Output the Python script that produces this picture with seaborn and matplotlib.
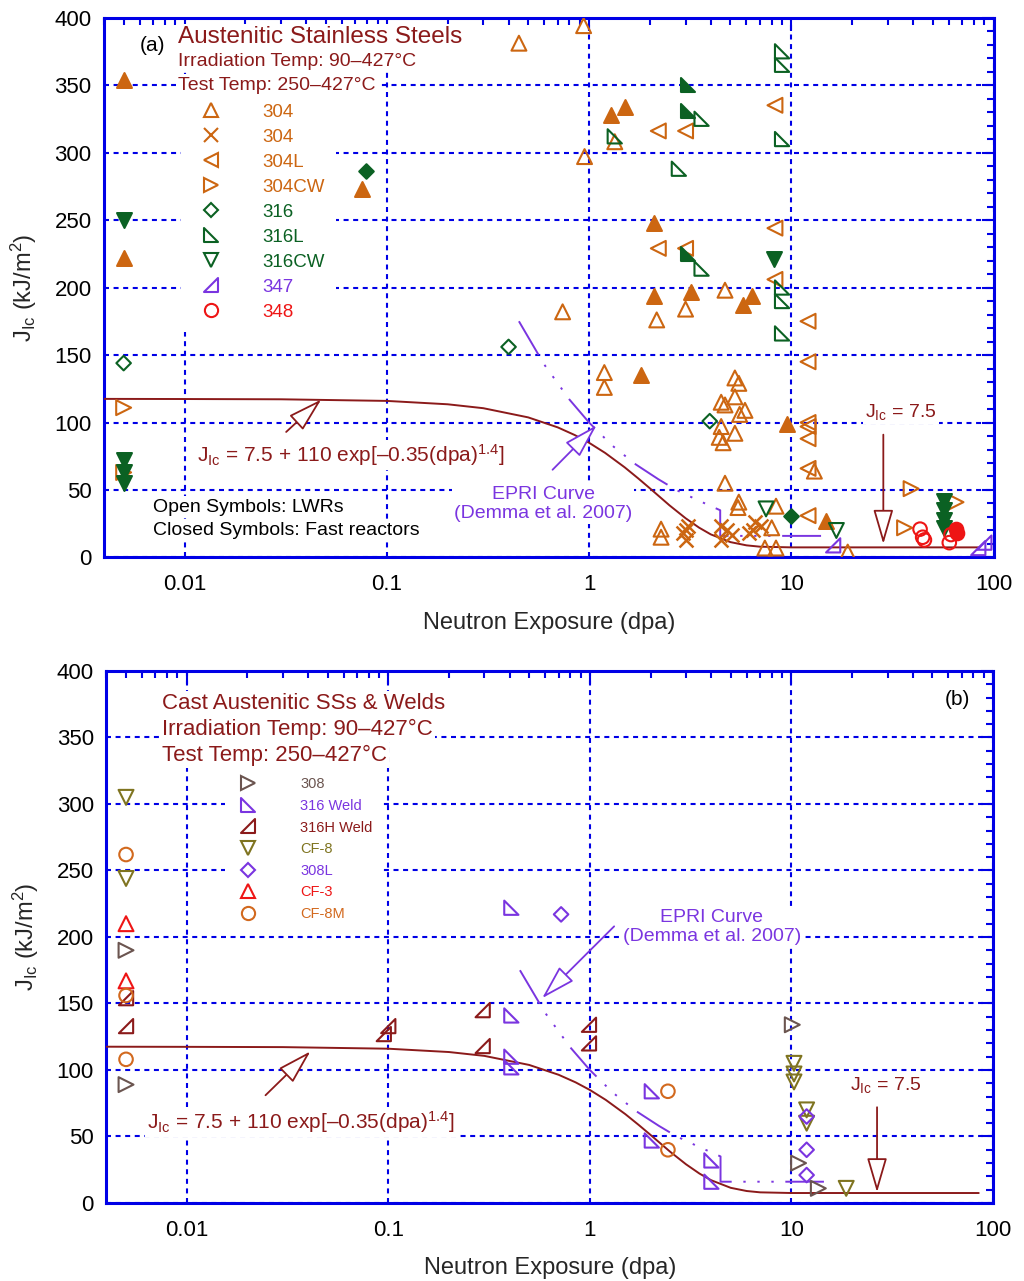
import numpy as np
import matplotlib
matplotlib.use('Agg')
import matplotlib.pyplot as plt
import seaborn as sns
from matplotlib.path import Path
from matplotlib.lines import Line2D
from matplotlib.ticker import MultipleLocator, LogLocator, NullFormatter

# ---------------- panel (a): austenitic stainless steels (dpa, J_Ic kJ/m2) ----------------
x_304_open = [0.45, 0.94, 0.95, 1.34, 0.74, 2.16, 3.0, 4.7, 1.19, 1.19, 5.26, 5.5, 5.26, 4.5,
              4.7, 5.9, 5.55, 4.5, 5.26, 4.4, 4.6, 4.7, 5.5, 5.45, 8.4, 8.0, 2.27, 2.27, 7.4,
              8.4, 19.0, 13.0]
j_304_open = [381, 394, 297, 308, 182, 176, 184, 198, 137, 126, 133, 129, 119, 115,
              113, 109, 106, 97, 92, 89, 85, 55, 41, 37, 38, 22, 21, 15, 7,
              7, 4, 64]
x_304_closed = [0.005, 0.005, 0.075, 1.29, 1.5, 2.09, 2.1, 3.18, 6.4, 5.8, 1.8, 9.5, 14.9]
j_304_closed = [354, 222, 273, 328, 334, 248, 194, 197, 194, 187, 135, 99, 27]
x_304_x = [3.0, 3.0, 3.1, 2.9, 4.5, 4.8, 5.1, 4.5, 6.6, 6.5, 7.1, 6.2]
j_304_x = [20, 13, 23, 18, 23, 20, 17, 13, 26, 20, 23, 18]
x_304L = [2.2, 3.0, 8.3, 8.3, 2.2, 3.0, 8.3, 12.1, 12.1, 12.1, 12.1, 12.1, 12.1, 12.1]
j_304L = [316, 316, 335, 244, 229, 229, 206, 175, 145, 100, 97, 88, 66, 31]
x_304CW = [0.005, 0.005, 39.1, 36.3, 65.2]
j_304CW = [111, 63, 51, 22, 41]
x_316_open = [0.005, 0.40, 3.95]
j_316_open = [144, 156, 101]
x_316_closed = [0.079, 10.0]
j_316_closed = [286, 31]
x_316L_open = [9.0, 9.0, 9.0, 2.78, 3.6, 1.34, 3.6, 9.0, 9.0, 9.0]
j_316L_open = [375, 365, 310, 288, 325, 312, 214, 200, 190, 166]
x_316L_closed = [3.09, 3.09, 3.09]
j_316L_closed = [350, 331, 225]
x_316CW_open = [7.5, 16.7]
j_316CW_open = [36, 20]
x_316CW_closed = [0.005, 0.005, 0.005, 0.005, 8.2, 56.6, 56.6, 56.6, 56.6]
j_316CW_closed = [250, 72, 63, 55, 221, 42, 35, 28, 22]
x_347 = [16.1, 84.0, 90.0]
j_347 = [9, 7, 11]
x_348_open = [43.3, 44.6, 45.5, 60.4, 61.6]
j_348_open = [21, 15, 13, 11, 17]
x_348_closed = [65.2, 66.0]
j_348_closed = [21, 18]

# ---------------- panel (b): cast SSs & welds ----------------
x_308 = [0.005, 0.005, 10.1, 10.85, 13.6]
j_308 = [190, 89, 134, 30, 11]
x_316W = [0.408, 0.408, 0.408, 0.408, 2.03, 2.03, 4.01, 4.01]
j_316W = [222, 141, 110, 102, 84, 47, 32, 16]
x_316HW = [0.005, 0.005, 0.095, 0.10, 0.294, 0.294, 0.99, 0.99]
j_316HW = [154, 133, 127, 133, 145, 118, 134, 120]
x_CF8 = [0.005, 0.005, 10.3, 10.3, 10.3, 11.9, 11.9, 18.7]
j_CF8 = [305, 244, 105, 97, 91, 70, 60, 11]
x_308L = [0.72, 11.9, 11.9, 11.9]
j_308L = [217, 65, 40, 21]
x_CF3 = [0.005, 0.005]
j_CF3 = [210, 167]
x_CF8M = [0.005, 0.005, 0.005, 2.44, 2.44]
j_CF8M = [262, 156, 108, 84, 40]

# ---------------- trend curves ----------------
curve_x = [0.004, 0.01, 0.03, 0.1, 0.2, 0.3, 0.5, 0.7, 0.85, 1.0, 1.2, 1.5, 1.75, 2.0, 2.5,
           3.0, 3.5, 4.0, 5.0, 6.0, 7.0, 10.0, 20.0, 85.0]
curve_j = [117.5, 117.4, 117.2, 116.0, 113.5, 110.6, 103.8, 96.4, 90.7, 85.0, 77.5, 66.8, 58.6,
           51.2, 38.6, 29.1, 22.1, 17.1, 11.4, 9.0, 8.0, 7.5, 7.5, 7.5]
epri_x = [0.45, 0.6, 0.8, 1.0, 1.3, 1.7, 2.2, 2.7, 3.5, 4.45, 4.45, 14.5]
epri_j = [175, 143, 117, 100, 83, 69, 58, 50, 42, 35, 16, 16]

BLUE = '#0000E6'
DRED = '#8B1A1A'
ORANGE = '#CC6611'
GREEN = '#0B6123'
PURPLE = '#7A35E0'
RED = '#EE1515'
GRAY = '#6B5550'
OLIVE = '#7F7420'
CF8M_C = '#D2691E'

EQN = r'J$_{\rm Ic}$ = 7.5 + 110 exp[' + '\u2013' + r'0.35(dpa)$^{1.4}$]'
JMIN = r'J$_{\rm Ic}$ = 7.5'

sns.set_style('white')
plt.rcParams['font.family'] = ['Liberation Sans', 'DejaVu Sans']
plt.rcParams['mathtext.fontset'] = 'custom'
plt.rcParams['mathtext.rm'] = 'Liberation Sans'
plt.rcParams['mathtext.it'] = 'Liberation Sans:italic'
plt.rcParams['mathtext.bf'] = 'Liberation Sans:bold'

# right-angle triangle markers
tri_left = Path([(-1, 1), (-1, -1), (1, -1), (-1, 1)],
                [Path.MOVETO, Path.LINETO, Path.LINETO, Path.CLOSEPOLY])
tri_right = Path([(1, 1), (1, -1), (-1, -1), (1, 1)],
                 [Path.MOVETO, Path.LINETO, Path.LINETO, Path.CLOSEPOLY])

fig = plt.figure(figsize=(10.24, 12.81), dpi=100)
ax1 = fig.add_axes([0.1016, 0.5648, 0.8687, 0.4215])
ax2 = fig.add_axes([0.1040, 0.0609, 0.8657, 0.4153])


def pts(ax, x, y, marker, color, filled=False, s=115):
    if marker == 'x':
        sns.scatterplot(x=x, y=y, ax=ax, marker='x', s=s, color=color,
                        linewidth=1.8, legend=False, zorder=5)
    else:
        sns.scatterplot(x=x, y=y, ax=ax, marker=marker, s=s, color=color,
                        facecolor=color if filled else 'none', edgecolor=color,
                        linewidth=1.5, legend=False, zorder=5)


def curves(ax):
    sns.lineplot(x=curve_x, y=curve_j, ax=ax, color=DRED, linewidth=1.4,
                 estimator=None, sort=False, zorder=3)
    sns.lineplot(x=epri_x, y=epri_j, ax=ax, color=PURPLE, linewidth=1.4,
                 estimator=None, sort=False, zorder=3,
                 linestyle=(0, (20, 6, 1.2, 6, 1.2, 6, 1.2, 6)))


def style_axes(ax):
    ax.set_xscale('log')
    ax.set_xlim(0.004, 100)
    ax.set_ylim(0, 400)
    ax.set_xticks([0.01, 0.1, 1, 10, 100])
    ax.set_xticklabels(['0.01', '0.1', '1', '10', '100'])
    ax.xaxis.set_minor_locator(LogLocator(base=10, subs=np.arange(2, 10)))
    ax.xaxis.set_minor_formatter(NullFormatter())
    ax.yaxis.set_major_locator(MultipleLocator(50))
    ax.yaxis.set_minor_locator(MultipleLocator(10))
    ax.tick_params(which='both', direction='in', top=True, right=True,
                   color=BLUE, width=1.5, labelsize=16, labelcolor='black')
    ax.tick_params(which='major', length=9, pad=9)
    ax.tick_params(axis='x', which='major', pad=12)
    ax.tick_params(which='minor', length=5)
    for sp in ax.spines.values():
        sp.set_color(BLUE)
        sp.set_linewidth(2.2)
        sp.set_visible(True)
    ax.grid(True, which='major', color=BLUE, linestyle=(0, (2.4, 2.2)), linewidth=1.5)
    ax.grid(False, which='minor')
    ax.set_axisbelow(True)
    ax.set_xlabel('Neutron Exposure (dpa)', fontsize=17, labelpad=12)
    ax.set_ylabel(r'J$_{\rm Ic}$ (kJ/m$^2$)', fontsize=17, labelpad=11)


def note(ax, x, y, s, color, fs, ha='left'):
    ax.text(x, y, s, transform=ax.transAxes, color=color, fontsize=fs, ha=ha,
            va='center', zorder=6, bbox=dict(fc='white', ec='none', pad=1.5))


def arrow(ax, tip, tail, color):
    ax.annotate('', xy=tip, xytext=tail, zorder=6,
                arrowprops=dict(arrowstyle='-|>,head_length=1.2,head_width=0.35',
                                ec=color, fc='white', lw=1.3, mutation_scale=18,
                                shrinkA=0, shrinkB=0))


def add_legend(ax, entries, fs, anchor, hpad, lspace):
    handles, labels, colors = [], [], []
    for lab, m, c, ms in entries:
        handles.append(Line2D([], [], linestyle='none', marker=m, markersize=ms,
                              markerfacecolor='none', markeredgecolor=c,
                              markeredgewidth=1.5, color=c))
        labels.append(lab)
        colors.append(c)
    leg = ax.legend(handles, labels, loc='upper left', bbox_to_anchor=anchor,
                    fontsize=fs, labelcolor=colors, frameon=True, framealpha=1,
                    facecolor='white', edgecolor='none', fancybox=False,
                    borderaxespad=0, borderpad=0.6, handletextpad=hpad,
                    labelspacing=lspace, handlelength=2)
    leg.set_zorder(4)


# ---------------- panel (a) ----------------
curves(ax1)
pts(ax1, x_304_open, j_304_open, '^', ORANGE)
pts(ax1, x_304_closed, j_304_closed, '^', ORANGE, filled=True)
pts(ax1, x_304_x, j_304_x, 'x', ORANGE, s=100)
pts(ax1, x_304L, j_304L, '<', ORANGE)
pts(ax1, x_304CW, j_304CW, '>', ORANGE)
pts(ax1, x_316_open, j_316_open, 'D', GREEN, s=55)
pts(ax1, x_316_closed, j_316_closed, 'D', GREEN, filled=True, s=55)
pts(ax1, x_316L_open, j_316L_open, tri_left, GREEN, s=105)
pts(ax1, x_316L_closed, j_316L_closed, tri_left, GREEN, filled=True, s=105)
pts(ax1, x_316CW_open, j_316CW_open, 'v', GREEN)
pts(ax1, x_316CW_closed, j_316CW_closed, 'v', GREEN, filled=True)
pts(ax1, x_347, j_347, tri_right, PURPLE, s=105)
pts(ax1, x_348_open, j_348_open, 'o', RED, s=95)
pts(ax1, x_348_closed, j_348_closed, 'o', RED, filled=True, s=95)
style_axes(ax1)

note(ax1, 0.0540, 0.949, '(a)', 'black', 15, ha='center')
note(ax1, 0.0832, 0.964, 'Austenitic Stainless Steels', DRED, 17.5)
note(ax1, 0.0832, 0.918, 'Irradiation Temp: 90\u2013427\u00b0C', DRED, 14)
note(ax1, 0.0832, 0.875, 'Test Temp: 250\u2013427\u00b0C', DRED, 14)
note(ax1, 0.0551, 0.0935, 'Open Symbols: LWRs', 'black', 14)
note(ax1, 0.0551, 0.0509, 'Closed Symbols: Fast reactors', 'black', 14)
note(ax1, 0.1046, 0.190, EQN, DRED, 15)
ax1.text(0.4935, 0.0991, 'EPRI Curve\n(Demma et al. 2007)', transform=ax1.transAxes,
         color=PURPLE, fontsize=14, ha='center', va='center', zorder=6,
         bbox=dict(fc='white', ec='none', pad=1.5))
note(ax1, 0.8555, 0.2694, JMIN, DRED, 14)
arrow(ax1, (0.0474, 117), (0.0318, 93), DRED)
arrow(ax1, (1.09, 98), (0.66, 65), PURPLE)
arrow(ax1, (28.5, 10), (28.5, 91), DRED)

add_legend(ax1, [('304', '^', ORANGE, 10.5), ('304', 'x', ORANGE, 10.5),
                 ('304L', '<', ORANGE, 10.5), ('304CW', '>', ORANGE, 10.5),
                 ('316', 'D', GREEN, 7), ('316L', tri_left, GREEN, 10),
                 ('316CW', 'v', GREEN, 10.5), ('347', tri_right, PURPLE, 10),
                 ('348', 'o', RED, 9.5)],
           fs=13.5, anchor=(0.0866, 0.861), hpad=1.73, lspace=0.42)

# ---------------- panel (b) ----------------
curves(ax2)
pts(ax2, x_308, j_308, '>', GRAY)
pts(ax2, x_316W, j_316W, tri_left, PURPLE, s=105)
pts(ax2, x_316HW, j_316HW, tri_right, DRED, s=105)
pts(ax2, x_CF8, j_CF8, 'v', OLIVE)
pts(ax2, x_308L, j_308L, 'D', PURPLE, s=55)
pts(ax2, x_CF3, j_CF3, '^', RED)
pts(ax2, x_CF8M, j_CF8M, 'o', CF8M_C, s=95)
style_axes(ax2)

note(ax2, 0.9594, 0.9455, '(b)', 'black', 15, ha='center')
note(ax2, 0.0626, 0.938, 'Cast Austenitic SSs & Welds', DRED, 16)
note(ax2, 0.0626, 0.891, 'Irradiation Temp: 90\u2013427\u00b0C', DRED, 16)
note(ax2, 0.0626, 0.842, 'Test Temp: 250\u2013427\u00b0C', DRED, 16)
note(ax2, 0.0457, 0.152, EQN, DRED, 15)
ax2.text(0.683, 0.519, 'EPRI Curve\n(Demma et al. 2007)', transform=ax2.transAxes,
         color=PURPLE, fontsize=14, ha='center', va='center', zorder=6,
         bbox=dict(fc='white', ec='none', pad=1.5))
note(ax2, 0.8388, 0.2218, JMIN, DRED, 14)
arrow(ax2, (0.0411, 114), (0.0246, 81), DRED)
arrow(ax2, (0.58, 154), (1.32, 208), PURPLE)
arrow(ax2, (26.6, 8), (26.6, 72), DRED)

add_legend(ax2, [('308', '>', GRAY, 10), ('316 Weld', tri_left, PURPLE, 10),
                 ('316H Weld', tri_right, DRED, 10), ('CF-8', 'v', OLIVE, 10),
                 ('308L', 'D', PURPLE, 7), ('CF-3', '^', RED, 10),
                 ('CF-8M', 'o', CF8M_C, 9.5)],
           fs=10.5, anchor=(0.1333, 0.8164), hpad=2.57, lspace=0.52)

fig.savefig('out.png', dpi=100)
